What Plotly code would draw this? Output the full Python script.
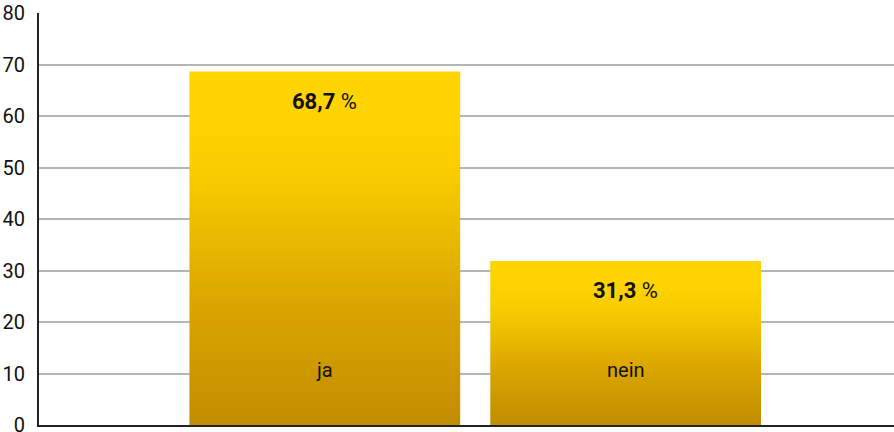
import plotly.graph_objects as go

categories = ["ja", "nein"]
bar_heights = [68.7, 31.9]
value_labels = ["68,7", "31,3"]
y_ticks = [0, 10, 20, 30, 40, 50, 60, 70, 80]

FONT = "Roboto"
half_w = 0.45
gradient = [[0.0, "#C18D00"], [0.35, "#DBA600"], [0.7, "#F7CB00"], [0.85, "#FFD300"], [1.0, "#FFD400"]]

fig = go.Figure()
for i, (cat, h) in enumerate(zip(categories, bar_heights)):
    xs = [i - half_w, i + half_w, i + half_w, i - half_w, i - half_w]
    ys = [0, 0, h, h, 0]
    fig.add_trace(go.Scatter(
        x=xs, y=ys, mode="lines", fill="toself",
        line=dict(width=0, color="rgba(0,0,0,0)"),
        fillgradient=dict(type="vertical", colorscale=gradient, start=0, stop=h),
        hoverinfo="skip", showlegend=False, name=cat,
    ))
    fig.add_annotation(x=i, y=h, yshift=-30, yanchor="middle", showarrow=False,
                       text=f"<b>{value_labels[i]}</b> %",
                       font=dict(family=FONT, size=22, color="#111"))
    fig.add_annotation(x=i, y=0, yshift=55, yanchor="middle", showarrow=False,
                       text=cat, font=dict(family=FONT, size=20, color="#111"))

fig.update_layout(
    width=894, height=432,
    margin=dict(l=39, r=0, t=13, b=7, autoexpand=False),
    paper_bgcolor="white", plot_bgcolor="white",
    showlegend=False,
    xaxis=dict(range=[-0.95, 1.892], showticklabels=False, showgrid=False,
               zeroline=False, showline=True, linecolor="#222", linewidth=2,
               fixedrange=True, automargin=False),
    yaxis=dict(range=[0, 80.08], tickvals=y_ticks, showgrid=True,
               gridcolor="#b5b5b5", gridwidth=1.5, zeroline=False,
               showline=True, linecolor="#222", linewidth=2,
               ticks="", ticklabelstandoff=8, ticklabeloverflow="allow",
               tickfont=dict(family=FONT, size=20, color="#111"),
               fixedrange=True, automargin=False),
)

fig.write_html("out.html", config={"displayModeBar": False},
               post_script="document.body.style.margin='0';document.body.style.overflow='hidden';")
